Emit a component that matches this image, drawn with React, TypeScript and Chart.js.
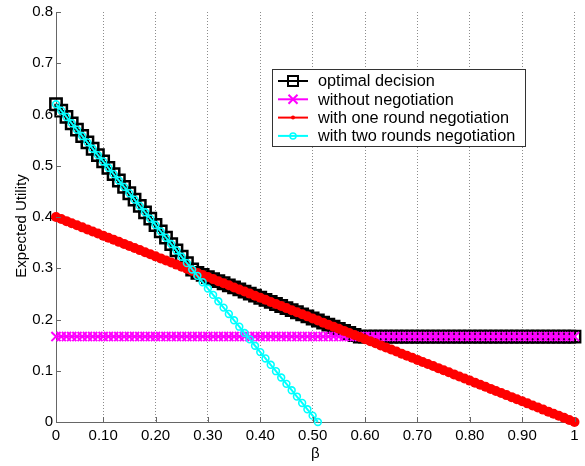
import { useEffect, useRef } from "react";
import { Chart, registerables } from "chart.js";

Chart.register(...registerables);

// sample index (1..100) along the beta axis
const sampleIndex = [
  1, 2, 3, 4, 5, 6, 7, 8, 9, 10, 11, 12, 13, 14, 15, 16, 17, 18, 19, 20,
  21, 22, 23, 24, 25, 26, 27, 28, 29, 30, 31, 32, 33, 34, 35, 36, 37, 38, 39, 40,
  41, 42, 43, 44, 45, 46, 47, 48, 49, 50, 51, 52, 53, 54, 55, 56, 57, 58, 59, 60,
  61, 62, 63, 64, 65, 66, 67, 68, 69, 70, 71, 72, 73, 74, 75, 76, 77, 78, 79, 80,
  81, 82, 83, 84, 85, 86, 87, 88, 89, 90, 91, 92, 93, 94, 95, 96, 97, 98, 99, 100,
];

const xTickPositions = [1, 10, 20, 30, 40, 50, 60, 70, 80, 90, 100];
const xTickLabels = ["0", "0.10", "0.20", "0.30", "0.40", "0.50", "0.60", "0.70", "0.80", "0.90", "1"];

const optimalDecision = [
  0.62, 0.6076, 0.5952, 0.5828, 0.5704, 0.558, 0.5456, 0.5332, 0.5208, 0.5084,
  0.496, 0.4836, 0.4712, 0.4588, 0.4464, 0.434, 0.4216, 0.4092, 0.3968, 0.3844,
  0.372, 0.3596, 0.3472, 0.3348, 0.3224, 0.31, 0.2976, 0.2909, 0.2869, 0.2828,
  0.2788, 0.2747, 0.2707, 0.2667, 0.2626, 0.2586, 0.2545, 0.2505, 0.2465, 0.2424,
  0.2384, 0.2343, 0.2303, 0.2263, 0.2222, 0.2182, 0.2141, 0.2101, 0.2061, 0.202,
  0.198, 0.1939, 0.1899, 0.1859, 0.1818, 0.1778, 0.1737, 0.1697, 0.1667, 0.1667,
  0.1667, 0.1667, 0.1667, 0.1667, 0.1667, 0.1667, 0.1667, 0.1667, 0.1667, 0.1667,
  0.1667, 0.1667, 0.1667, 0.1667, 0.1667, 0.1667, 0.1667, 0.1667, 0.1667, 0.1667,
  0.1667, 0.1667, 0.1667, 0.1667, 0.1667, 0.1667, 0.1667, 0.1667, 0.1667, 0.1667,
  0.1667, 0.1667, 0.1667, 0.1667, 0.1667, 0.1667, 0.1667, 0.1667, 0.1667, 0.1667,
];

const withoutNegotiation = [
  0.1667, 0.1667, 0.1667, 0.1667, 0.1667, 0.1667, 0.1667, 0.1667, 0.1667, 0.1667,
  0.1667, 0.1667, 0.1667, 0.1667, 0.1667, 0.1667, 0.1667, 0.1667, 0.1667, 0.1667,
  0.1667, 0.1667, 0.1667, 0.1667, 0.1667, 0.1667, 0.1667, 0.1667, 0.1667, 0.1667,
  0.1667, 0.1667, 0.1667, 0.1667, 0.1667, 0.1667, 0.1667, 0.1667, 0.1667, 0.1667,
  0.1667, 0.1667, 0.1667, 0.1667, 0.1667, 0.1667, 0.1667, 0.1667, 0.1667, 0.1667,
  0.1667, 0.1667, 0.1667, 0.1667, 0.1667, 0.1667, 0.1667, 0.1667, 0.1667, 0.1667,
  0.1667, 0.1667, 0.1667, 0.1667, 0.1667, 0.1667, 0.1667, 0.1667, 0.1667, 0.1667,
  0.1667, 0.1667, 0.1667, 0.1667, 0.1667, 0.1667, 0.1667, 0.1667, 0.1667, 0.1667,
  0.1667, 0.1667, 0.1667, 0.1667, 0.1667, 0.1667, 0.1667, 0.1667, 0.1667, 0.1667,
  0.1667, 0.1667, 0.1667, 0.1667, 0.1667, 0.1667, 0.1667, 0.1667, 0.1667, 0.1667,
];

const oneRoundNegotiation = [
  0.4, 0.396, 0.3919, 0.3879, 0.3838, 0.3798, 0.3758, 0.3717, 0.3677, 0.3636,
  0.3596, 0.3556, 0.3515, 0.3475, 0.3434, 0.3394, 0.3354, 0.3313, 0.3273, 0.3232,
  0.3192, 0.3152, 0.3111, 0.3071, 0.303, 0.299, 0.2949, 0.2909, 0.2869, 0.2828,
  0.2788, 0.2747, 0.2707, 0.2667, 0.2626, 0.2586, 0.2545, 0.2505, 0.2465, 0.2424,
  0.2384, 0.2343, 0.2303, 0.2263, 0.2222, 0.2182, 0.2141, 0.2101, 0.2061, 0.202,
  0.198, 0.1939, 0.1899, 0.1859, 0.1818, 0.1778, 0.1737, 0.1697, 0.1657, 0.1616,
  0.1576, 0.1535, 0.1495, 0.1455, 0.1414, 0.1374, 0.1333, 0.1293, 0.1253, 0.1212,
  0.1172, 0.1131, 0.1091, 0.1051, 0.101, 0.097, 0.0929, 0.0889, 0.0848, 0.0808,
  0.0768, 0.0727, 0.0687, 0.0646, 0.0606, 0.0566, 0.0525, 0.0485, 0.0444, 0.0404,
  0.0364, 0.0323, 0.0283, 0.0242, 0.0202, 0.0162, 0.0121, 0.0081, 0.004, 0.0,
];

const twoRoundsNegotiation = [
  0.62, 0.6076, 0.5952, 0.5828, 0.5704, 0.558, 0.5456, 0.5332, 0.5208, 0.5084,
  0.496, 0.4836, 0.4712, 0.4588, 0.4464, 0.434, 0.4216, 0.4092, 0.3968, 0.3844,
  0.372, 0.3596, 0.3472, 0.3348, 0.3224, 0.31, 0.2976, 0.2852, 0.2728, 0.2604,
  0.248, 0.2356, 0.2232, 0.2108, 0.1984, 0.186, 0.1736, 0.1612, 0.1488, 0.1364,
  0.124, 0.1116, 0.0992, 0.0868, 0.0744, 0.062, 0.0496, 0.0372, 0.0248, 0.0124,
  0.0,
];

const seriesLabels = [
  "optimal decision",
  "without negotiation",
  "with one round negotiation",
  "with two rounds negotiation",
];

const yAxisTitle = "Expected Utility";

const FONT = "'Liberation Sans', Arial, sans-serif";

const toPoints = (vals: number[]) => vals.map((y, i) => ({ x: sampleIndex[i], y }));

function drawMarker(ctx: CanvasRenderingContext2D, kind: string, x: number, y: number, color: string) {
  ctx.save();
  ctx.strokeStyle = color;
  ctx.fillStyle = color;
  ctx.lineWidth = 2;
  ctx.beginPath();
  if (kind === "square") {
    ctx.rect(x - 5, y - 5, 10, 10);
    ctx.stroke();
  } else if (kind === "x") {
    ctx.moveTo(x - 4.5, y - 4.5);
    ctx.lineTo(x + 4.5, y + 4.5);
    ctx.moveTo(x + 4.5, y - 4.5);
    ctx.lineTo(x - 4.5, y + 4.5);
    ctx.stroke();
  } else if (kind === "dot") {
    ctx.arc(x, y, 2, 0, Math.PI * 2);
    ctx.fill();
  } else if (kind === "circle") {
    ctx.lineWidth = 1.5;
    ctx.arc(x, y, 3, 0, Math.PI * 2);
    ctx.stroke();
  }
  ctx.restore();
}

const legendMarkers = ["square", "x", "dot", "circle"];

const matlabDecor = {
  id: "matlabDecor",
  afterDraw(chart: any) {
    const { ctx, chartArea, scales } = chart;
    ctx.save();
    // inward tick marks
    ctx.strokeStyle = "#666";
    ctx.lineWidth = 1;
    ctx.beginPath();
    scales.y.ticks.forEach((t: any) => {
      const y = Math.round(scales.y.getPixelForValue(t.value)) + 0.5;
      ctx.moveTo(chartArea.left, y);
      ctx.lineTo(chartArea.left + 5, y);
    });
    scales.x.ticks.forEach((t: any) => {
      const x = Math.round(scales.x.getPixelForValue(t.value)) + 0.5;
      ctx.moveTo(x, chartArea.bottom);
      ctx.lineTo(x, chartArea.bottom - 5);
    });
    ctx.stroke();

    // y-axis title
    ctx.save();
    ctx.translate(22, 226);
    ctx.rotate(-Math.PI / 2);
    ctx.font = `15px ${FONT}`;
    ctx.fillStyle = "#000";
    ctx.textAlign = "center";
    ctx.textBaseline = "middle";
    ctx.fillText(yAxisTitle, 0, 0);
    ctx.restore();

    // legend box
    const bx = 272.5, by = 69.5, bw = 253, bh = 77;
    ctx.fillStyle = "#ffffff";
    ctx.fillRect(bx, by, bw, bh);
    ctx.strokeStyle = "#333";
    ctx.lineWidth = 1;
    ctx.strokeRect(bx, by, bw, bh);
    ctx.font = `16.3px ${FONT}`;
    ctx.textBaseline = "middle";
    ctx.textAlign = "left";
    const datasets = chart.data.datasets;
    datasets.forEach((ds: any, i: number) => {
      const y = 81 + i * 18.3;
      const color = ds.borderColor;
      ctx.strokeStyle = color;
      ctx.lineWidth = 2;
      ctx.beginPath();
      ctx.moveTo(278, y);
      ctx.lineTo(308, y);
      ctx.stroke();
      drawMarker(ctx, legendMarkers[i], 293, y, color);
      ctx.fillStyle = "#000";
      ctx.fillText(ds.label, 318, y + 1);
    });
    ctx.restore();
  },
};

export default function App() {
  const ref = useRef<HTMLCanvasElement | null>(null);

  useEffect(() => {
    if (!ref.current) return;
    const chart = new Chart(ref.current, {
      type: "line",
      data: {
        datasets: [
          {
            label: seriesLabels[0],
            data: toPoints(optimalDecision),
            borderColor: "#000000",
            borderWidth: 2,
            pointStyle: "rect",
            pointRadius: 8,
            pointBorderWidth: 2.5,
            pointBorderColor: "#000000",
            pointBackgroundColor: "rgba(0,0,0,0)",
            order: 4,
            clip: 12,
          },
          {
            label: seriesLabels[1],
            data: toPoints(withoutNegotiation),
            borderColor: "#ff00ff",
            borderWidth: 2,
            pointStyle: "crossRot",
            pointRadius: 6.5,
            pointBorderWidth: 2,
            pointBorderColor: "#ff00ff",
            order: 3,
            clip: 12,
          },
          {
            label: seriesLabels[2],
            data: toPoints(oneRoundNegotiation),
            borderColor: "#ff0000",
            borderWidth: 2,
            pointStyle: "circle",
            pointRadius: 5,
            pointBorderWidth: 0,
            pointBackgroundColor: "#ff0000",
            order: 2,
            clip: 12,
          },
          {
            label: seriesLabels[3],
            data: toPoints(twoRoundsNegotiation),
            borderColor: "#00ffff",
            borderWidth: 2,
            pointStyle: "circle",
            pointRadius: 3.4,
            pointBorderWidth: 1.6,
            pointBorderColor: "#00ffff",
            pointBackgroundColor: "rgba(0,0,0,0)",
            order: 1,
            clip: 12,
          },
        ],
      },
      options: {
        responsive: false,
        animation: false,
        events: [],
        layout: { padding: { top: 12, right: 8, bottom: 0, left: 0 } },
        plugins: { legend: { display: false }, tooltip: { enabled: false } },
        elements: { line: { tension: 0 } },
        scales: {
          x: {
            type: "linear",
            min: 1,
            max: 100,
            afterBuildTicks: (scale: any) => {
              scale.ticks = xTickPositions.map((v) => ({ value: v }));
            },
            afterFit: (scale: any) => {
              scale.height = 44;
            },
            ticks: {
              autoSkip: false,
              maxRotation: 0,
              padding: 5,
              color: "#000",
              font: { family: FONT, size: 15 },
              callback: (value: any) => {
                const idx = xTickPositions.indexOf(Number(value));
                return idx >= 0 ? xTickLabels[idx] : "";
              },
            },
            grid: {
              display: true,
              drawTicks: false,
              color: "#8c8c8c",
              lineWidth: 1,
            },
            border: { display: true, color: "#666", width: 1, dash: [1, 2] },
            title: {
              display: true,
              text: "β",
              color: "#000",
              font: { family: FONT, size: 15 },
              padding: { top: 0, bottom: 3 },
            },
          },
          y: {
            type: "linear",
            min: 0,
            max: 0.8,
            afterFit: (scale: any) => {
              scale.width = 56;
            },
            ticks: {
              stepSize: 0.1,
              padding: 3,
              color: "#000",
              font: { family: FONT, size: 15 },
              callback: (value: any) => {
                const v = Number(value);
                return v === 0 ? "0" : v.toFixed(1);
              },
            },
            grid: { display: false, drawTicks: false },
            border: { display: true, color: "#666", width: 1 },
            title: { display: false },
          },
        },
      },
      plugins: [matlabDecor],
    } as any);
    return () => chart.destroy();
  }, []);

  return (
    <div style={{ position: "absolute", left: 0, top: 0, width: 585, height: 466, background: "#fff" }}>
      <canvas ref={ref} width={585} height={466} style={{ display: "block" }} />
    </div>
  );
}
